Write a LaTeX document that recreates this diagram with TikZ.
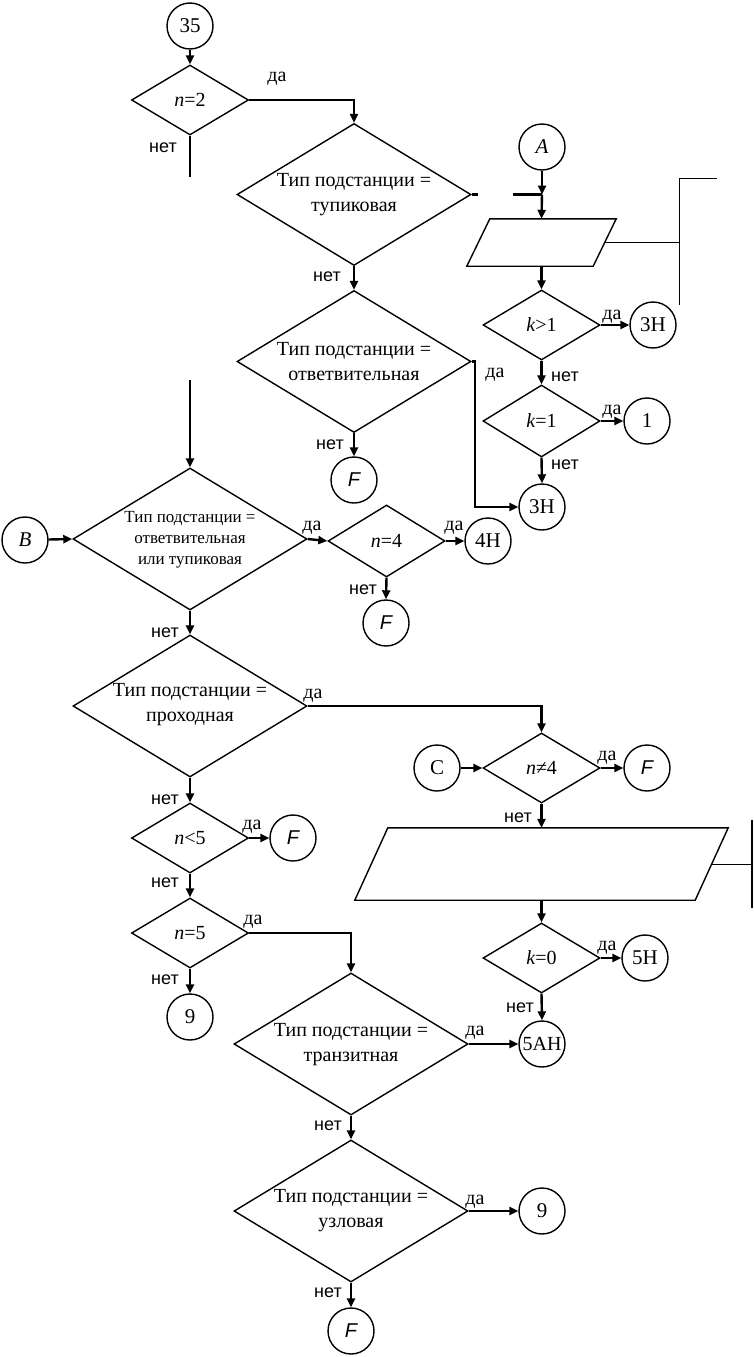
\documentclass[tikz,border=0pt]{standalone}
\usepackage{fontspec}
\setmainfont{Liberation Serif}
\newfontfamily\labsans{Liberation Sans}
\usetikzlibrary{shapes.geometric,arrows.meta}
\tikzset{
  shp/.style={line width=1.4pt},
  dia/.style={draw, shape=diamond, inner sep=0pt, line width=1.4pt},
  dsmall/.style={dia, minimum width=117pt, minimum height=70pt},
  dlarge/.style={dia, minimum width=234pt, minimum height=142pt},
  con/.style={draw, shape=circle, minimum size=46pt, inner sep=0pt, line width=1.4pt, font=\fontsize{21}{24}\selectfont},
  arr/.style={line width=2.4pt, -{Triangle[length=9pt,width=8pt]}},
  ln/.style={line width=2.4pt},
  thin/.style={line width=1pt},
  yes/.style={inner sep=0pt, font=\fontsize{20}{22}\selectfont},
  no/.style={inner sep=0pt, font=\labsans\fontsize{18}{20}\selectfont},
  txt/.style={align=center, inner sep=0pt, font=\fontsize{20}{25}\selectfont},
  txts/.style={align=center, inner sep=0pt, font=\fontsize{17}{21}\selectfont},
  pbox/.style={inner sep=0pt}
}
\begin{document}
\begin{tikzpicture}[x=1pt,y=-1pt]
\useasboundingbox (0,0) rectangle (754,1357);

% ---------- left top column ----------
\node[con] (c35) at (190,26) {35};
\node[dsmall] (d1) at (190,100) {};
\node[txt] (t1) at (190,100) {\textit{n}=2};
\node[dlarge] (d2) at (354,194.5) {};
\node[txt] (t2) at (354,195) {Тип подстанции =\\тупиковая};
\node[dlarge] (d5) at (354,361.5) {};
\node[txt] (t5) at (354,362) {Тип подстанции =\\ответвительная};
\node[con, font=\labsans\itshape\fontsize{20}{22}\selectfont] (F1) at (354,480) {F};

\coordinate (s1) at (190,177);
\coordinate (e2a) at (478,194.5);
\coordinate (e2b) at (513,194.5);
\coordinate (m1) at (542,194.5);
\coordinate (s2) at (190,380);

\draw[arr] (c35) -- (d1.north);
\draw[arr] (d1.east) -| (d2.north);
\draw[ln] (d1.south) -- (s1);
\draw[arr] (d2.south) -- (d5.north);
\draw[arr] (d5.south) -- (F1.north);
\draw[ln] (d2.east) -- (e2a);
\draw[ln] (e2b) -- (m1);

\node[yes] (l1) at (277,79) {да};
\node[no] (l2) at (163,148) {нет};
\node[no] (l3) at (327,277) {нет};
\node[yes] (l4) at (495,375) {да};
\node[no] (l5) at (330,445) {нет};

% ---------- A column ----------
\node[con, font=\itshape\fontsize{21}{24}\selectfont] (A) at (542,147) {A};
\node[pbox, minimum width=126pt, minimum height=47pt] (p1) at (541.5,242.5) {};
\draw[shp] ([xshift=11.5pt]p1.north west) -- ([xshift=11.5pt]p1.north east)
  -- ([xshift=-11.5pt]p1.south east) -- ([xshift=-11.5pt]p1.south west) -- cycle;
\node[dsmall] (d3) at (541.5,325) {};
\node[txt] (t3) at (541.5,325) {\textit{k}>1};
\node[dsmall, minimum height=72pt] (d4) at (541.5,421) {};
\node[txt] (t4) at (541.5,421) {\textit{k}=1};
\node[con] (c3Ha) at (653,325) {3Н};
\node[con] (c1) at (647,421) {1};
\node[con] (c3Hb) at (542,507) {3Н};

\draw[arr] (A) -- (m1);
\draw[arr] (m1) -- (p1.north);
\draw[arr] (p1.south) -- (d3.north);
\draw[arr] (d3.east) -- (c3Ha.west);
\draw[arr] (d3.south) -- (d4.north);
\draw[arr] (d4.east) -- (c1.west);
\draw[arr] (d4.south) -- (c3Hb.north);
\draw[arr] (d5.east) -- ++(3,0) |- (c3Hb.west);

\coordinate (k1a) at (679,242.5);
\coordinate (k1t) at (679,178);
\coordinate (k1b) at (679,305);
\coordinate (k1r) at (717,178);
\draw[thin] (p1.east) -- (k1a);
\draw[thin] (k1t) -- (k1b);
\draw[thin] (k1t) -- (k1r);

\node[yes] (l6) at (612,317) {да};
\node[no] (l7) at (565,377) {нет};
\node[yes] (l8) at (612,412) {да};
\node[no] (l9) at (565,465) {нет};

% ---------- middle ----------
\node[con, font=\itshape\fontsize{21}{24}\selectfont] (B) at (25,540) {B};
\node[dlarge] (d6) at (190,539) {};
\node[txts] (t6) at (190,540) {Тип подстанции =\\ответвительная\\или тупиковая};
\node[dsmall, minimum height=72pt] (d7) at (386.5,541) {};
\node[txt] (t7) at (386.5,541) {\textit{n}=4};
\node[con] (c4H) at (488,541) {4Н};
\node[con, font=\labsans\itshape\fontsize{20}{22}\selectfont] (F2) at (386,623) {F};

\draw[arr] (s2) -- (d6.north);
\draw[arr] (B) -- (d6.west);
\draw[arr] (d6.east) -- (d7.west);
\draw[arr] (d7.east) -- (c4H.west);
\draw[arr] (d7.south) -- (F2.north);

\node[yes] (l10) at (312,528) {да};
\node[yes] (l11) at (454,528) {да};
\node[no] (l12) at (363,590) {нет};
\node[no] (l13) at (165,633) {нет};

\node[dlarge] (d8) at (190,706) {};
\node[txt] (t8) at (190,705) {Тип подстанции =\\проходная};
\draw[arr] (d6.south) -- (d8.north);

\node[dsmall] (d9) at (190,838) {};
\node[txt] (t9) at (190,838) {\textit{n}<5};
\node[con, font=\labsans\itshape\fontsize{20}{22}\selectfont] (F3) at (293,838) {F};
\node[dsmall] (d10) at (190,933) {};
\node[txt] (t10) at (190,933) {\textit{n}=5};
\node[con] (c9a) at (190,1017) {9};

\draw[arr] (d8.south) -- (d9.north);
\draw[arr] (d9.east) -- (F3.west);
\draw[arr] (d9.south) -- (d10.north);
\draw[arr] (d10.south) -- (c9a.north);

\node[yes] (l14) at (313,696) {да};
\node[no] (l15) at (165,800) {нет};
\node[yes] (l16) at (252,827) {да};
\node[no] (l17) at (165,883) {нет};
\node[yes] (l18) at (253,922) {да};
\node[no] (l19) at (165,980) {нет};

% ---------- C column ----------
\node[con] (C) at (437,768) {C};
\node[dsmall] (d11) at (541.5,768) {};
\node[txt] (t11) at (541.5,768) {\textit{n}≠4};
\node[con, font=\labsans\itshape\fontsize{20}{22}\selectfont] (F5) at (647,768) {F};
\node[pbox, minimum width=340pt, minimum height=72pt] (p2) at (541.5,864) {};
\draw[shp] ([xshift=16.5pt]p2.north west) -- ([xshift=16.5pt]p2.north east)
  -- ([xshift=-16.5pt]p2.south east) -- ([xshift=-16.5pt]p2.south west) -- cycle;
\node[dsmall] (d14) at (541.5,958) {};
\node[txt] (t14) at (541.5,958) {\textit{k}=0};
\node[con] (c5H) at (645,958) {5Н};
\node[con, font=\fontsize{20}{22}\selectfont] (c5AH) at (542,1044) {5АН};

\draw[arr] (d8.east) -| (d11.north);
\draw[arr] (C) -- (d11.west);
\draw[arr] (d11.east) -- (F5.west);
\draw[arr] (d11.south) -- (p2.north);
\draw[arr] (p2.south) -- (d14.north);
\draw[arr] (d14.east) -- (c5H.west);
\draw[arr] (d14.south) -- (c5AH.north);

\coordinate (k2a) at (752,864);
\coordinate (k2t) at (752,820);
\coordinate (k2b) at (752,908);
\draw[thin] (p2.east) -- (k2a);
\draw[line width=1.6pt] (k2t) -- (k2b);

\node[yes] (l20) at (607,758) {да};
\node[no] (l21) at (518,818) {нет};
\node[yes] (l22) at (607,948) {да};
\node[no] (l23) at (520,1008) {нет};

% ---------- bottom ----------
\node[dlarge] (d12) at (351,1044) {};
\node[txt] (t12) at (351,1045) {Тип подстанции =\\транзитная};
\node[dlarge] (d13) at (351,1211) {};
\node[txt] (t13) at (351,1211) {Тип подстанции =\\узловая};
\node[con] (c9b) at (542,1211) {9};
\node[con, font=\labsans\itshape\fontsize{20}{22}\selectfont] (F4) at (351,1331) {F};

\draw[arr] (d10.east) -| (d12.north);
\draw[arr] (d12.east) -- (c5AH.west);
\draw[arr] (d12.south) -- (d13.north);
\draw[arr] (d13.east) -- (c9b.west);
\draw[arr] (d13.south) -- (F4.north);

\node[yes] (l24) at (475,1033) {да};
\node[no] (l25) at (328,1126) {нет};
\node[yes] (l26) at (475,1202) {да};
\node[no] (l27) at (328,1293) {нет};
\end{tikzpicture}
\end{document}
